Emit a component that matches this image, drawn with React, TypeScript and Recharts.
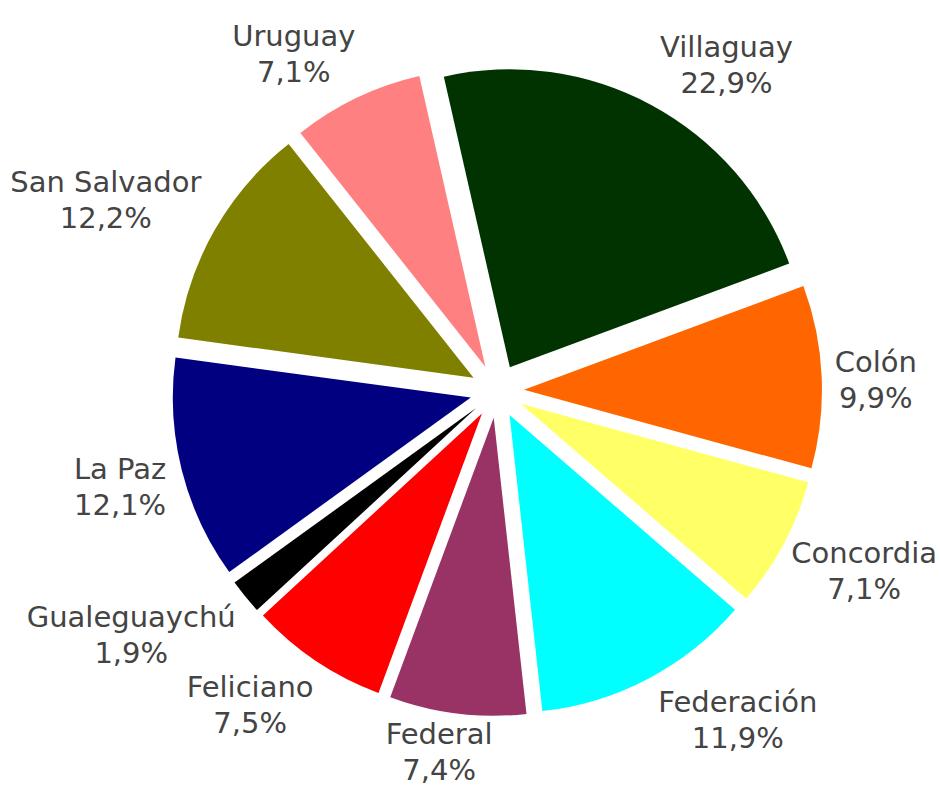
import { PieChart, Pie, Cell, Sector } from "recharts";

const districts = [
  "Villaguay",
  "Colón",
  "Concordia",
  "Federación",
  "Federal",
  "Feliciano",
  "Gualeguaychú",
  "La Paz",
  "San Salvador",
  "Uruguay",
];
const shares = [22.9, 9.9, 7.1, 11.9, 7.4, 7.5, 1.9, 12.1, 12.2, 7.1];
const sliceColors = [
  "#003300",
  "#FF6600",
  "#FFFF66",
  "#00FFFF",
  "#993366",
  "#FF0000",
  "#000000",
  "#000080",
  "#808000",
  "#FF8080",
];

const data = districts.map((name, i) => ({ name, value: shares[i] }));

// best-fit style label nudge, degrees clockwise from the slice's mid angle
const labelTurn = [6.7, 0.9, -2.3, -8.5, 1.9, 4.4, 5.5, -0.2, -3.6, -5.5];

const WIDTH = 940;
const HEIGHT = 791;
const RAD = Math.PI / 180;
const EXPLODE = 27;
const FONT_SIZE = 29;
const LINE_GAP = 36;
const FONT_FAMILY = "'DejaVu Sans', Verdana, sans-serif";

let measureCtx: CanvasRenderingContext2D | null = null;
function textWidth(s: string): number {
  if (!measureCtx) {
    measureCtx = document.createElement("canvas").getContext("2d");
  }
  if (!measureCtx) return s.length * FONT_SIZE * 0.55;
  measureCtx.font = `${FONT_SIZE}px ${FONT_FAMILY}`;
  return measureCtx.measureText(s).width;
}

// each slice pushed out along its own mid angle
function ExplodedSector(props: any) {
  const { cx, cy, midAngle, innerRadius, outerRadius, startAngle, endAngle, fill } = props;
  const dx = EXPLODE * Math.cos(-midAngle * RAD);
  const dy = EXPLODE * Math.sin(-midAngle * RAD);
  return (
    <Sector
      cx={cx + dx}
      cy={cy + dy}
      innerRadius={innerRadius}
      outerRadius={outerRadius}
      startAngle={startAngle}
      endAngle={endAngle}
      fill={fill}
      stroke="none"
    />
  );
}

function renderLabel(props: any) {
  const { cx, cy, midAngle, outerRadius, value } = props;
  const name = props.name ?? props.payload?.name;
  const idx = districts.indexOf(name);
  const pct = `${Number(value).toFixed(1).replace(".", ",")}%`;
  const angle = midAngle - (labelTurn[idx] ?? 0);
  const ux = Math.cos(angle * RAD);
  const uy = -Math.sin(angle * RAD);
  const hw = Math.max(textWidth(name), textWidth(pct)) / 2;
  const hh = 29;
  // keep the nearest edge of the text block a fixed distance off the pie
  const d = outerRadius + EXPLODE + 12 + hw * Math.abs(ux) + hh * Math.abs(uy);
  // keep the text block inside the chart
  const x = Math.max(hw + 3, Math.min(cx + d * ux, WIDTH - hw - 3));
  const y = Math.min(cy + d * uy, HEIGHT - LINE_GAP - 3);
  return (
    <text
      x={x}
      y={y}
      textAnchor="middle"
      fill="#444444"
      fontSize={FONT_SIZE}
      fontFamily={FONT_FAMILY}
    >
      <tspan x={x} y={y - 8}>
        {name}
      </tspan>
      <tspan x={x} y={y - 8 + LINE_GAP}>
        {pct}
      </tspan>
    </text>
  );
}

export default function App() {
  return (
    <div
      style={{
        position: "absolute",
        left: 0,
        top: 0,
        width: WIDTH,
        height: HEIGHT,
        background: "#fff",
      }}
    >
      <PieChart width={WIDTH} height={HEIGHT}>
        <Pie
          data={data}
          dataKey="value"
          nameKey="name"
          cx={492}
          cy={386}
          outerRadius={298}
          startAngle={102.8}
          endAngle={-257.2}
          stroke="none"
          labelLine={false}
          label={renderLabel}
          shape={ExplodedSector}
          isAnimationActive={false}
        >
          {data.map((entry, i) => (
            <Cell key={entry.name} fill={sliceColors[i]} />
          ))}
        </Pie>
      </PieChart>
    </div>
  );
}
